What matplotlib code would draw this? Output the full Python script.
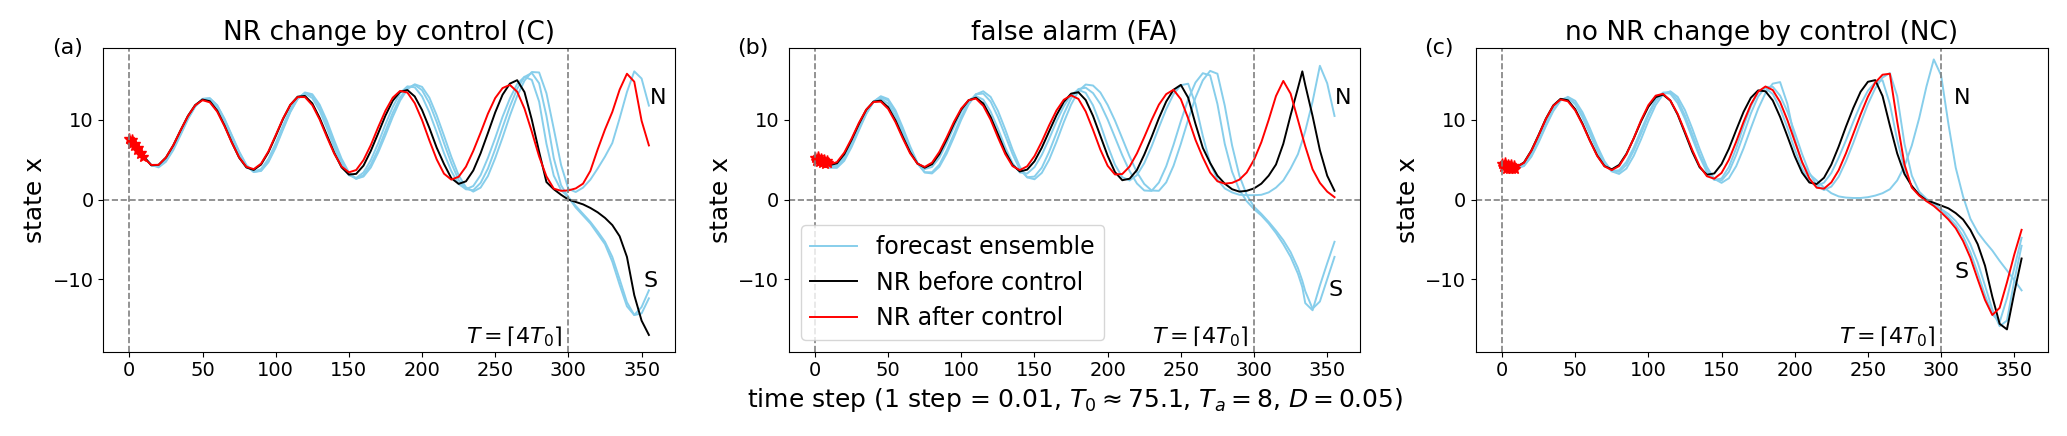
import matplotlib.pyplot as plt

# time grids (step index)
steps = list(range(0, 356, 5))
steps_b = sorted(steps + [333])
star_steps = list(range(10))

# ---- panel (a): NR change by control (C)
a_black = [7.4, 6.76, 5.36, 4.31, 4.36, 5.27, 6.8, 8.69, 10.5, 11.87,
           12.56, 12.35, 11.18, 9.32, 7.2, 5.27, 4.03, 3.72, 4.4, 5.93,
           7.97, 10.11, 11.88, 12.92, 13.01, 12.08, 10.27, 8.08, 5.88, 4.05,
           3.14, 3.23, 4.26, 6.12, 8.31, 10.55, 12.42, 13.55, 13.75, 12.95,
           11.25, 9.0, 6.52, 4.47, 2.69, 1.97, 2.29, 3.65, 5.81, 8.35,
           10.95, 13.16, 14.56, 14.99, 13.49, 10.03, 6.0, 2.2, 1.3, 0.6,
           0.0, -0.3, -0.6, -1.05, -1.6, -2.3, -3.2, -4.6, -7.2, -12.0,
           -15.2, -17.0]
a_red = [7.6, 6.5, 5.2, 4.35, 4.36, 5.28, 6.81, 8.69, 10.47, 11.84,
         12.48, 12.21, 11.05, 9.23, 7.16, 5.31, 4.11, 3.82, 4.51, 6.04,
         8.08, 10.18, 11.91, 12.87, 12.87, 11.86, 10.07, 7.86, 5.77, 4.15,
         3.42, 3.71, 4.96, 6.84, 9.07, 11.16, 12.8, 13.64, 13.44, 12.11,
         9.98, 7.43, 5.05, 3.25, 2.51, 2.86, 4.13, 6.11, 8.39, 10.78,
         12.75, 14.0, 14.4, 13.54, 11.42, 8.52, 5.41, 2.91, 1.37, 1.1,
         1.15, 1.4, 2.0, 3.6, 6.3, 8.8, 11.0, 13.8, 15.8, 14.8,
         9.9, 6.8]
a_ens = [
    [7.4, 6.7, 5.4, 4.3, 4.17, 4.94, 6.47, 8.31, 10.2, 11.73,
     12.59, 12.57, 11.6, 9.89, 7.78, 5.77, 4.22, 3.52, 3.83, 5.1,
     7.06, 9.3, 11.34, 12.79, 13.3, 12.75, 11.18, 8.98, 6.56, 4.44,
     3.06, 2.71, 3.4, 4.95, 7.06, 9.46, 11.64, 13.37, 14.22, 14.1,
     12.96, 10.95, 8.45, 5.83, 3.57, 1.95, 1.3, 1.7, 3.07, 5.23,
     7.73, 10.39, 12.69, 14.52, 15.42, 15.03, 12.3, 7.0, 3.0, 1.2,
     0.3, -1.0, -2.0, -3.0, -4.3, -5.6, -7.8, -10.7, -13.4, -14.5,
     -13.5, -11.4],
    [7.4, 6.7, 5.4, 4.35, 4.04, 4.75, 6.2, 8.1, 10.07, 11.68,
     12.64, 12.72, 11.82, 10.09, 8.0, 5.94, 4.26, 3.45, 3.65, 4.84,
     6.72, 8.97, 11.07, 12.66, 13.38, 13.03, 11.64, 9.48, 7.01, 4.76,
     3.16, 2.6, 3.06, 4.39, 6.3, 8.61, 10.91, 12.81, 14.02, 14.4,
     13.74, 12.1, 9.75, 7.09, 4.58, 2.46, 1.3, 1.18, 2.09, 3.88,
     6.34, 9.05, 11.67, 13.92, 15.4, 15.9, 14.6, 10.5, 5.2, 1.8,
     0.3, -0.8, -1.8, -2.8, -4.0, -5.3, -7.2, -10.0, -12.9, -14.5,
     -14.3, -12.4],
    [7.4, 6.7, 5.4, 4.3, 4.17, 4.93, 6.45, 8.26, 10.19, 11.72,
     12.64, 12.72, 11.85, 10.15, 8.1, 6.05, 4.34, 3.48, 3.59, 4.68,
     6.53, 8.79, 10.98, 12.62, 13.45, 13.23, 11.93, 9.88, 7.43, 5.14,
     3.41, 2.62, 2.89, 4.03, 5.9, 8.09, 10.39, 12.43, 13.86, 14.48,
     14.15, 12.8, 10.59, 8.02, 5.37, 3.05, 1.54, 1.0, 1.5, 2.95,
     5.21, 7.78, 10.53, 13.01, 14.94, 16.02, 15.96, 13.35, 8.89, 4.34,
     1.34, 0.95, 1.5, 2.5, 3.9, 5.4, 7.1, 10.2, 13.5, 16.1,
     15.2, 11.8],
]
a_star = [7.6, 7.0, 7.5, 6.7, 7.0, 6.2, 6.5, 5.7, 5.9, 5.3]

# ---- panel (b): false alarm (FA)  (grid has an extra point at 333)
b_black = [5.0, 4.6, 4.33, 4.55, 5.69, 7.49, 9.48, 11.26, 12.3, 12.43,
           11.59, 9.95, 7.89, 5.95, 4.53, 4.0, 4.44, 5.72, 7.54, 9.54,
           11.31, 12.47, 12.79, 12.07, 10.38, 8.22, 6.01, 4.34, 3.53, 3.76,
           4.81, 6.52, 8.56, 10.58, 12.26, 13.3, 13.48, 12.5, 10.5, 8.0,
           5.5, 3.45, 2.43, 2.62, 3.71, 5.64, 7.85, 10.22, 12.31, 13.79,
           14.4, 12.8, 9.5, 6.5, 4.6, 3.0, 2.0, 1.3, 1.0, 1.1,
           1.4, 2.0, 3.0, 4.4, 7.0, 10.6, 14.0,
           16.1,
           14.4, 10.5, 6.2, 3.0, 1.1]
b_red = [5.0, 4.6, 4.42, 4.7, 5.89, 7.65, 9.62, 11.29, 12.25, 12.3,
         11.39, 9.73, 7.69, 5.81, 4.51, 4.1, 4.64, 5.99, 7.81, 9.77,
         11.44, 12.48, 12.68, 11.77, 10.04, 7.82, 5.72, 4.2, 3.7, 4.18,
         5.46, 7.28, 9.32, 11.18, 12.53, 13.09, 12.64, 11.06, 8.75, 6.27,
         4.24, 3.15, 3.21, 4.15, 5.8, 7.84, 9.98, 11.92, 13.24, 13.79,
         12.6, 10.2, 7.5, 5.3, 3.4, 2.3, 2.0, 2.1, 2.5, 3.4,
         5.0, 7.2, 10.0, 13.0, 14.9, 13.3, 10.0,
         8.0,
         6.7, 3.8, 2.1, 1.0, 0.3]
b_ens = [
    [5.0, 4.5, 4.15, 4.28, 5.34, 7.07, 9.12, 10.99, 12.3, 12.7,
     12.04, 10.48, 8.36, 6.24, 4.58, 3.83, 4.1, 5.26, 7.07, 9.14,
     11.03, 12.44, 13.0, 12.55, 11.06, 8.93, 6.58, 4.57, 3.4, 3.27,
     4.07, 5.62, 7.62, 9.8, 11.7, 13.16, 13.78, 13.4, 11.83, 9.45,
     6.77, 4.38, 2.81, 2.4, 3.07, 4.57, 6.67, 9.06, 11.35, 13.23,
     14.36, 14.55, 12.0, 8.0, 4.6, 2.5, 1.4, 0.9, 0.6, 0.55,
     0.55, 0.6, 0.9, 1.5, 2.4, 3.9, 5.7,
     7.4,
     8.6, 12.3, 16.8, 14.6, 10.5],
    [5.0, 4.5, 4.05, 4.12, 5.09, 6.81, 8.87, 10.86, 12.3, 12.89,
     12.44, 10.94, 8.77, 6.47, 4.52, 3.43, 3.43, 4.38, 6.16, 8.25,
     10.43, 12.19, 13.23, 13.31, 12.32, 10.38, 8.05, 5.72, 3.77, 2.8,
     2.89, 4.01, 6.0, 8.34, 10.75, 12.71, 13.88, 14.05, 13.37, 12.0,
     10.05, 7.81, 5.56, 3.57, 2.02, 1.14, 1.09, 2.14, 4.18, 6.88,
     9.85, 12.58, 14.7, 15.87, 15.6, 12.0, 7.0, 3.5, 1.2, -0.2,
     -1.2, -2.0, -3.0, -4.2, -5.6, -7.2, -9.3,
     -11.0,
     -13.0, -13.9, -10.8, -8.0, -5.3],
    [5.0, 4.45, 4.0, 3.98, 4.86, 6.59, 8.67, 10.73, 12.27, 12.98,
     12.63, 11.21, 9.05, 6.7, 4.63, 3.4, 3.28, 4.12, 5.77, 7.85,
     10.05, 11.95, 13.22, 13.6, 12.9, 11.16, 8.82, 6.28, 4.12, 2.79,
     2.55, 3.35, 5.0, 7.24, 9.7, 11.92, 13.62, 14.45, 14.32, 13.45,
     11.88, 9.91, 7.67, 5.41, 3.43, 1.96, 1.14, 1.1, 2.16, 4.24,
     7.0, 10.03, 12.81, 14.97, 16.16, 15.8, 11.8, 6.8, 3.0, 0.6,
     -0.9, -1.8, -2.8, -3.9, -5.1, -6.6, -8.6,
     -10.2,
     -11.5, -13.7, -12.8, -10.0, -7.2],
]
b_star = [5.2, 4.8, 5.3, 4.7, 5.1, 4.6, 5.0, 4.5, 4.9, 4.6]

# ---- panel (c): no NR change by control (NC)
c_black = [4.3, 4.15, 4.1, 4.66, 6.15, 8.11, 10.17, 11.82, 12.65, 12.47,
           11.34, 9.54, 7.45, 5.56, 4.21, 3.8, 4.35, 5.75, 7.68, 9.82,
           11.65, 12.86, 13.18, 12.43, 10.67, 8.35, 6.0, 4.06, 3.12, 3.28,
           4.46, 6.38, 8.73, 11.0, 12.78, 13.71, 13.6, 12.44, 10.38, 7.95,
           5.45, 3.39, 2.14, 1.95, 2.74, 4.4, 6.65, 9.16, 11.5, 13.54,
           14.79, 15.0, 13.0, 9.3, 5.8, 3.2, 1.7, 0.6, -0.1, -0.4,
           -0.75, -1.1, -1.7, -2.5, -3.8, -5.6, -8.3, -12.2, -15.6, -16.3,
           -11.7, -7.4]
c_red = [4.4, 4.2, 4.1, 4.62, 6.1, 8.07, 10.14, 11.78, 12.57, 12.34,
         11.2, 9.43, 7.39, 5.48, 4.17, 3.7, 4.21, 5.67, 7.71, 9.96,
         11.86, 13.05, 13.28, 12.44, 10.76, 8.53, 6.22, 4.2, 2.93, 2.62,
         3.35, 5.0, 7.27, 9.73, 11.93, 13.56, 14.2, 13.75, 12.25, 9.97,
         7.32, 4.73, 2.65, 1.49, 1.37, 2.16, 3.68, 5.81, 8.25, 10.69,
         12.92, 14.69, 15.68, 15.8, 9.8, 4.4, 1.5, 0.5, -0.2, -0.8,
         -1.6, -2.5, -3.6, -5.2, -7.3, -10.0, -12.6, -14.5, -13.6, -10.4,
         -6.9, -3.8]
c_ens = [
    [4.3, 4.0, 3.9, 4.21, 5.37, 7.17, 9.23, 11.1, 12.43, 12.9,
     12.4, 10.96, 8.96, 6.75, 4.81, 3.54, 3.22, 3.9, 5.49, 7.57,
     9.87, 11.88, 13.2, 13.6, 12.9, 11.23, 8.9, 6.36, 4.1, 2.6,
     2.1, 2.68, 4.2, 6.42, 8.95, 11.4, 13.36, 14.56, 14.75, 12.0,
     7.6, 4.6, 3.2, 2.4, 1.5, 0.8, 0.4, 0.25, 0.2, 0.2,
     0.3, 0.5, 0.8, 1.3, 2.4, 4.2, 6.8, 10.2, 14.2, 17.6,
     15.6, 9.5, 4.0, 0.4, -2.4, -4.1, -5.3, -6.4, -7.7, -8.9,
     -10.1, -11.4],
    [4.3, 4.1, 4.0, 4.4, 5.68, 7.56, 9.64, 11.47, 12.56, 12.75,
     11.96, 10.29, 8.25, 6.17, 4.46, 3.58, 3.68, 4.74, 6.53, 8.72,
     10.8, 12.55, 13.42, 13.3, 12.12, 10.14, 7.71, 5.4, 3.45, 2.49,
     2.64, 4.09, 6.44, 9.23, 11.73, 13.5, 14.0, 13.25, 11.47, 9.0,
     6.31, 3.91, 2.28, 1.7, 2.13, 3.34, 5.26, 7.43, 9.77, 11.94,
     13.67, 14.75, 14.98, 12.0, 7.5, 3.8, 1.6, 0.6, -0.1, -0.6,
     -1.2, -1.8, -2.7, -3.9, -5.6, -7.9, -10.8, -13.8, -15.9, -15.2,
     -10.2, -5.8],
    [4.3, 4.1, 4.0, 4.26, 5.48, 7.33, 9.41, 11.26, 12.48, 12.77,
     12.1, 10.57, 8.53, 6.39, 4.62, 3.58, 3.48, 4.37, 6.15, 8.28,
     10.54, 12.34, 13.42, 13.51, 12.52, 10.55, 8.2, 5.69, 3.7, 2.5,
     2.4, 3.48, 5.61, 8.17, 10.81, 12.94, 14.14, 14.16, 13.05, 11.03,
     8.43, 5.72, 3.37, 1.76, 1.2, 1.63, 2.86, 4.82, 7.11, 9.61,
     11.99, 13.97, 15.33, 15.89, 13.0, 7.0, 3.0, 1.0, 0.1, -0.5,
     -1.2, -2.2, -3.2, -4.6, -6.6, -9.2, -12.0, -14.4, -15.4, -12.4,
     -8.6, -4.8],
]
c_star = [4.5, 4.1, 4.6, 3.9, 4.4, 3.8, 4.3, 3.8, 4.2, 3.9]

panels = [
    ('NR change by control (C)', '(a)', steps, a_ens, a_black, a_red, a_star,
     (356, 12.8), (351, -10.2)),
    ('false alarm (FA)', '(b)', steps_b, b_ens, b_black, b_red, b_star,
     (355, 12.8), (351, -11.3)),
    ('no NR change by control (NC)', '(c)', steps, c_ens, c_black, c_red, c_star,
     (309, 12.8), (309, -9.1)),
]

fig = plt.figure(figsize=(20.67, 4.36), dpi=100)
lefts = [0.0500, 0.3817, 0.7141]
axes = []
for i, (title, tag, t, ens, black, red, star, n_xy, s_xy) in enumerate(panels):
    for curve in ens + [black, red]:
        assert len(curve) == len(t), (tag, len(curve), len(t))
    ax = fig.add_axes([lefts[i], 0.1934, 0.2765, 0.6959])
    axes.append(ax)
    for k, e in enumerate(ens):
        ax.plot(t, e, color='skyblue', lw=1.4,
                label='forecast ensemble' if k == 0 else None)
    ax.plot(t, black, color='black', lw=1.4, label='NR before control')
    ax.plot(t, red, color='red', lw=1.4, label='NR after control')
    ax.plot(star_steps, star, color='red', marker='*', ms=8, lw=1)
    ax.axvline(0, color='gray', ls='--', lw=1.2)
    ax.axvline(300, color='gray', ls='--', lw=1.2)
    ax.axhline(0, color='gray', ls='--', lw=1.2)
    ax.set_ylim(-19.1, 19.0)
    ax.set_yticks([-10, 0, 10])
    ax.tick_params(labelsize=14)
    ax.set_ylabel('state x', fontsize=18)
    ax.set_title(title, fontsize=19)
    ax.text(-0.09, 1.0, tag, transform=ax.transAxes, fontsize=16,
            ha='left', va='center')
    ax.text(n_xy[0], n_xy[1], 'N', fontsize=16, ha='left', va='center')
    ax.text(s_xy[0], s_xy[1], 'S', fontsize=16, ha='left', va='center')
    ax.text(296, -17.3, r'$T = \lceil 4T_0 \rceil$', fontsize=16,
            ha='right', va='center')

axes[1].legend(loc='lower left', fontsize=17)
axes[1].set_xlabel(r'time step (1 step = 0.01, $T_0 \approx 75.1$, $T_a = 8$, $D = 0.05$)',
                   fontsize=18)

fig.savefig('out.png', dpi=100)
